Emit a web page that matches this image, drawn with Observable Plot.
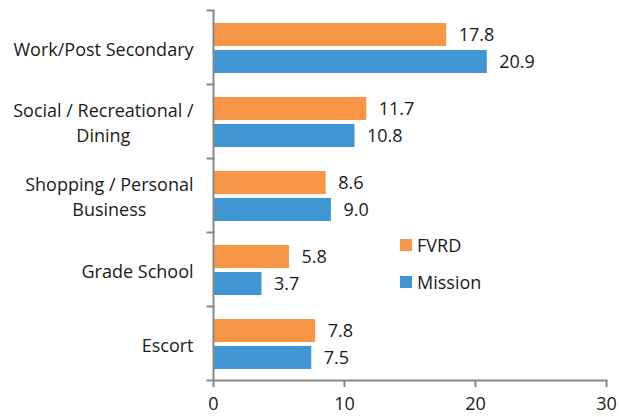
<!DOCTYPE html>
<html>
<head>
<meta charset="utf-8">
<script src="https://cdn.jsdelivr.net/npm/d3@7"></script>
<script src="https://cdn.jsdelivr.net/npm/@observablehq/plot@0.6"></script>
<style>
  html, body { margin: 0; padding: 0; background: #fff; }
  #wrap { position: relative; width: 619px; height: 417px; font-family: "Open Sans", sans-serif; }
  .leg { position: absolute; display: flex; align-items: center; font-size: 18px; color: #1a1a1a; height: 14px; }
  .sw { width: 12px; height: 12px; margin-right: 5px; flex: none; }
</style>
</head>
<body>
<div id="wrap"></div>
<script>
const categories = ["Work/Post Secondary", "Social / Recreational / Dining", "Shopping / Personal Business", "Grade School", "Escort"];
const tickLabels = ["Work/Post Secondary", "Social / Recreational /\nDining", "Shopping / Personal\nBusiness", "Grade School", "Escort"];
const series = ["FVRD", "Mission"];
const fvrdValues = [17.8, 11.7, 8.6, 5.8, 7.8];
const missionValues = [20.9, 10.8, 9.0, 3.7, 7.5];
const xTicks = [0, 10, 20, 30];
const colors = ["#F79646", "#4096D2"];

const FONT = "Open Sans";
const FS = 18;
const W = 619, H = 417;
const mL = 213, mR = 13, mT = 8, mB = 36;
const axisColor = "#888888";

const rows = [];
categories.forEach((c, i) => {
  rows.push({category: c, series: series[0], value: fvrdValues[i]});
  rows.push({category: c, series: series[1], value: missionValues[i]});
});

// measure label lines to centre multi-line labels inside a right-aligned block
const ctx = document.createElement("canvas").getContext("2d");
ctx.font = `${FS}px "${FONT}"`;
const labelMarks = categories.map((c, i) => {
  const lines = tickLabels[i].split("\n");
  const w = Math.max(...lines.map(l => ctx.measureText(l).width));
  return Plot.text([c], {
    fy: d => d,
    text: () => tickLabels[i],
    frameAnchor: "left",
    textAnchor: "middle",
    dx: -(20 + w / 2),
    lineHeight: 1.4,
    fill: "#1a1a1a",
    fontSize: FS
  });
});

const plotW = W - mL - mR;

const chart = Plot.plot({
  width: W,
  height: H,
  marginLeft: mL,
  marginRight: mR,
  marginTop: mT,
  marginBottom: mB,
  style: {fontFamily: FONT, fontSize: FS + "px", overflow: "visible", background: "#fff"},
  x: {domain: [0, 30], axis: null},
  y: {domain: series, paddingInner: 0.145, paddingOuter: 0.43, align: 0.55, axis: null},
  fy: {domain: categories, padding: 0, axis: null},
  color: {domain: series, range: colors},
  marks: [
    Plot.barX(rows, {fy: "category", y: "series", x: "value", fill: "series"}),
    Plot.text(rows, {fy: "category", y: "series", x: "value", text: d => d.value.toFixed(1), dx: 12, textAnchor: "start", fill: "#1a1a1a", fontSize: FS}),
    Plot.ruleX([0], {stroke: axisColor, strokeWidth: 2}),
    Plot.frame({anchor: "top", insetLeft: -6, insetRight: plotW, stroke: axisColor, strokeWidth: 2}),
    Plot.frame({anchor: "bottom", insetLeft: -6, facetAnchor: "bottom", stroke: axisColor, strokeWidth: 2}),
    Plot.axisX({ticks: xTicks, tickSize: 7, tickPadding: 10, stroke: axisColor, strokeWidth: 2, fill: "#1a1a1a", fontSize: FS, label: null, tickFormat: d => String(d)}),
    ...labelMarks
  ]
});

const wrap = document.getElementById("wrap");
wrap.appendChild(chart);

// legend inside the plot area
const legPos = [{left: 400, top: 238}, {left: 400, top: 275}];
series.forEach((s, i) => {
  const d = document.createElement("div");
  d.className = "leg";
  d.style.left = legPos[i].left + "px";
  d.style.top = legPos[i].top + "px";
  d.innerHTML = `<span class="sw" style="background:${colors[i]}"></span><span>${s}</span>`;
  wrap.appendChild(d);
});
</script>
</body>
</html>
